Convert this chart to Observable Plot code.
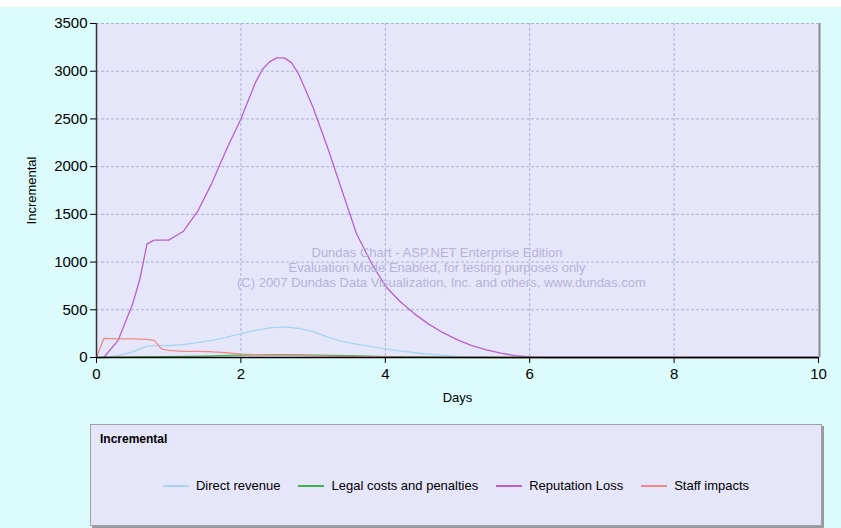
<!DOCTYPE html>
<html><head><meta charset="utf-8">
<script src="https://cdn.jsdelivr.net/npm/d3@7"></script>
<script src="https://cdn.jsdelivr.net/npm/@observablehq/plot@0.6"></script>
<style>
body{margin:0;background:#fff;font-family:"Liberation Sans",Arial,sans-serif;}
#wrap{position:absolute;left:0;top:7px;width:841px;height:521px;background:#dcfcfc;overflow:hidden;}
#chart{position:absolute;left:0;top:0;}
#wm{position:absolute;left:237px;top:238px;width:400px;text-align:center;color:#b4b4d8;font-size:13px;line-height:15px;pointer-events:none;white-space:nowrap;}
#legend{position:absolute;left:90px;top:417px;width:730px;height:100px;background:#e6e6fa;border:1px solid #a0a0a8;box-shadow:2px 2px 0 #9a9aa0;}
#legend .t{position:absolute;left:9px;top:7px;font-weight:bold;font-size:12px;color:#000;}
#legend .items{position:absolute;left:0;right:0;top:53px;text-align:center;font-size:13px;color:#000;white-space:nowrap;}
#legend .it{display:inline-block;margin:0 9px;}
#legend .sw{display:inline-block;width:26px;height:2px;vertical-align:middle;margin-right:7px;position:relative;top:-1px;}
</style></head>
<body>
<div id="wrap">
<div id="chart"></div>
<div id="wm">Dundas Chart - ASP.NET Enterprise Edition<br>Evaluation Mode Enabled, for testing purposes only<br>(C) 2007 Dundas Data Visualization, Inc. and others, www.dundas.com</div>
<div id="legend"><div class="t">Incremental</div><div class="items" id="items"></div></div>
</div>
<script>
const seriesNames = ["Direct revenue","Legal costs and penalties","Reputation Loss","Staff impacts"];
const seriesColors = ["#a6d4ec","#3cb44a","#b861c9","#f08a8a"];
const xTicks = [0,2,4,6,8,10];
const yTicks = [0,500,1000,1500,2000,2500,3000,3500];

const directX = [0,0.1,0.3,0.5,0.7,0.8,1.0,1.2,1.4,1.6,1.8,2.0,2.2,2.4,2.6,2.8,3.0,3.2,3.4,3.6,3.8,4.0,4.2,4.4,4.6,4.8,5.0,5.2,5.4,5.6,6,10];
const directY = [0,0,20,60,120,125,125,135,155,180,210,250,285,310,320,305,270,215,170,140,115,90,70,50,35,22,12,6,3,0,0,0];

const legalX = [0,0.5,1.0,1.5,2.0,2.5,3.0,3.5,4.0,4.5,5.0,5.5,10];
const legalY = [0,5,10,15,25,30,25,20,10,5,2,0,0];

const repX = [0.1,0.3,0.5,0.6,0.7,0.8,1.0,1.2,1.4,1.6,1.8,2.0,2.2,2.3,2.4,2.5,2.6,2.7,2.8,3.0,3.2,3.4,3.6,3.8,4.0,4.2,4.4,4.6,4.8,5.0,5.2,5.4,5.6,5.8,6.0,6.2,10];
const repY = [0,180,560,820,1190,1230,1230,1320,1530,1830,2180,2500,2880,3020,3100,3140,3140,3090,2970,2620,2200,1750,1300,1000,750,590,460,350,260,185,125,80,45,20,6,0,0];

const staffX = [0,0.1,0.3,0.5,0.7,0.8,0.9,1.0,1.2,1.4,1.6,1.8,2.0,2.2,2.4,2.6,2.8,3.0,3.4,3.8,4.2,4.6,5.0,10];
const staffY = [0,200,195,195,190,180,90,75,65,65,60,50,35,30,25,25,22,18,12,8,4,2,0,0];

const rows = [];
[[directX,directY],[legalX,legalY],[repX,repY],[staffX,staffY]].forEach(([xs,ys],i)=>{
  xs.forEach((x,j)=>rows.push({series:seriesNames[i],x,y:ys[j]}));
});

const grid = "#a9b3d1";
const plot = Plot.plot({
  width: 841, height: 412,
  marginLeft: 96, marginRight: 23, marginTop: 16, marginBottom: 62,
  style: {fontFamily: "Liberation Sans, Arial, sans-serif", fontSize: "12px", background: "transparent", color: "#000"},
  x: {domain: [0,10], ticks: xTicks, label: null},
  y: {domain: [0,3500], ticks: yTicks, label: null},
  color: {domain: seriesNames, range: seriesColors},
  marks: [
    Plot.frame({fill: "#e6e6fa", stroke: null}),
    Plot.gridX(xTicks.slice(1,-1), {stroke: grid, strokeOpacity: 1, strokeDasharray: "3,2"}),
    Plot.gridY(yTicks.slice(1), {stroke: grid, strokeOpacity: 1, strokeDasharray: "3,2"}),
    Plot.ruleX([10], {stroke: "#8a8a90", strokeWidth: 2, dx: 1}),
    Plot.line(rows, {x: "x", y: "y", z: "series", stroke: "series", strokeWidth: 1.3}),
    Plot.ruleY([0], {stroke: "#000", strokeWidth: 1.5}),
    Plot.ruleX([0], {stroke: "#333", strokeWidth: 1.5}),
    Plot.axisX({ticks: xTicks, tickSize: 6, tickPadding: 5, fontSize: 15, tickFormat: d => String(d), label: "Days", labelAnchor: "center", labelArrow: "none", labelOffset: 44, stroke: "#000"}),
    Plot.axisY({ticks: yTicks, tickSize: 6, tickPadding: 3, fontSize: 15, tickFormat: d => String(d), label: "Incremental", labelAnchor: "center", labelArrow: "none", labelOffset: 70, stroke: "#000"})
  ]
});
document.getElementById("chart").appendChild(plot);
plot.querySelectorAll("[aria-label='x-axis label'] text, [aria-label='y-axis label'] text").forEach(t=>t.setAttribute("font-size","13px"));
plot.querySelectorAll("[aria-label='x-axis label'], [aria-label='y-axis label']").forEach(g=>g.setAttribute("font-size","13px"));

const items = document.getElementById("items");
seriesNames.forEach((n,i)=>{
  const s = document.createElement("span"); s.className="it";
  s.innerHTML = `<span class="sw" style="background:${seriesColors[i]}"></span>${n}`;
  items.appendChild(s);
});
</script>
</body></html>
